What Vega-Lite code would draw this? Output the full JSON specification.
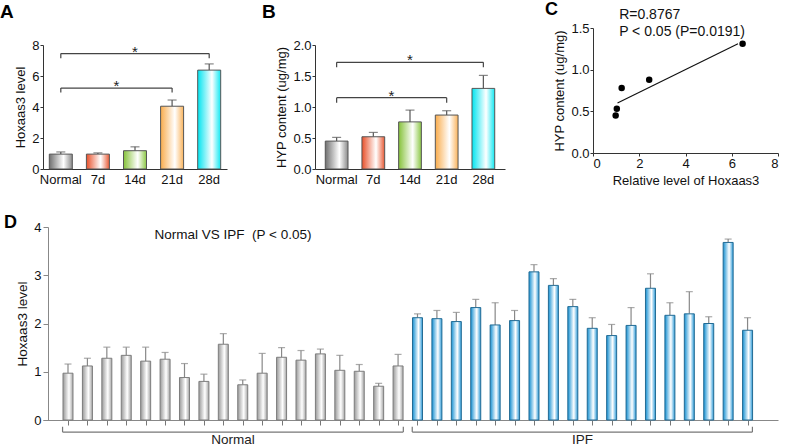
{
  "$schema": "https://vega.github.io/schema/vega-lite/v6.json",
  "padding": 0,
  "autosize": {"type": "pad"},
  "bounds": "flush",
  "spacing": 199,
  "config": {
    "font": "Liberation Sans",
    "view": {"stroke": null},
    "axis": {"labelFont": "Liberation Sans", "titleFont": "Liberation Sans", "labelFontSize": 13, "titleFontSize": 13, "titleFontWeight": "normal", "labelColor": "#111", "titleColor": "#111", "domainColor": "#333", "tickColor": "#333", "grid": false, "labelPadding": 1, "tickSize": 3, "labelOverlap": false},
    "title": {"font": "Liberation Sans", "fontSize": 19, "fontWeight": "bold", "anchor": "start", "color": "#000", "frame": "group"}
  },
  "datasets": {
    "A": [{"g":"Normal","v":0.96,"e":1.1},{"g":"7d","v":0.96,"e":1.04},{"g":"14d","v":1.18,"e":1.43},{"g":"21d","v":4.05,"e":4.45},{"g":"28d","v":6.38,"e":6.78}],
    "Abr": [{"x1":"Normal","x2":"28d","y1":7.45,"y2":7.45},{"x1":"Normal","x2":"Normal","y1":7.45,"y2":7.15},{"x1":"28d","x2":"28d","y1":7.45,"y2":7.15},{"x1":"Normal","x2":"21d","y1":5.22,"y2":5.22},{"x1":"Normal","x2":"Normal","y1":5.22,"y2":4.93},{"x1":"21d","x2":"21d","y1":5.22,"y2":4.93}],
    "B": [{"g":"Normal","v":0.45,"e":0.51},{"g":"7d","v":0.52,"e":0.59},{"g":"14d","v":0.76,"e":0.95},{"g":"21d","v":0.87,"e":0.94},{"g":"28d","v":1.30,"e":1.51}],
    "Bbr": [{"x1":"Normal","x2":"28d","y1":1.72,"y2":1.72},{"x1":"Normal","x2":"Normal","y1":1.72,"y2":1.64},{"x1":"28d","x2":"28d","y1":1.72,"y2":1.64},{"x1":"Normal","x2":"21d","y1":1.15,"y2":1.15},{"x1":"Normal","x2":"Normal","y1":1.15,"y2":1.07},{"x1":"21d","x2":"21d","y1":1.15,"y2":1.07}],
    "Cpts": [{"x":0.98,"y":0.45},{"x":1.03,"y":0.53},{"x":1.24,"y":0.78},{"x":2.43,"y":0.88},{"x":6.47,"y":1.31}],
    "Cline": [{"x":1.06,"y":0.60},{"x":6.27,"y":1.31}],
    "Ctext": [{"x":1.13,"y":1.66,"t":"R=0.8767"},{"x":1.13,"y":1.45,"t":"P < 0.05 (P=0.0191)"}],
    "D": [
      {"i":1,"grp":"Normal","v":0.97,"e":1.16},{"i":2,"grp":"Normal","v":1.12,"e":1.28},{"i":3,"grp":"Normal","v":1.28,"e":1.51},{"i":4,"grp":"Normal","v":1.34,"e":1.51},{"i":5,"grp":"Normal","v":1.22,"e":1.51},{"i":6,"grp":"Normal","v":1.26,"e":1.40},{"i":7,"grp":"Normal","v":0.88,"e":1.17},{"i":8,"grp":"Normal","v":0.80,"e":0.95},{"i":9,"grp":"Normal","v":1.57,"e":1.79},{"i":10,"grp":"Normal","v":0.73,"e":0.83},{"i":11,"grp":"Normal","v":0.97,"e":1.38},{"i":12,"grp":"Normal","v":1.30,"e":1.50},{"i":13,"grp":"Normal","v":1.24,"e":1.44},{"i":14,"grp":"Normal","v":1.37,"e":1.47},{"i":15,"grp":"Normal","v":1.03,"e":1.34},{"i":16,"grp":"Normal","v":1.01,"e":1.15},{"i":17,"grp":"Normal","v":0.70,"e":0.76},{"i":18,"grp":"Normal","v":1.12,"e":1.36},
      {"i":19,"grp":"IPF","v":2.12,"e":2.20},{"i":20,"grp":"IPF","v":2.10,"e":2.27},{"i":21,"grp":"IPF","v":2.04,"e":2.23},{"i":22,"grp":"IPF","v":2.33,"e":2.50},{"i":23,"grp":"IPF","v":1.97,"e":2.43},{"i":24,"grp":"IPF","v":2.06,"e":2.27},{"i":25,"grp":"IPF","v":3.07,"e":3.22},{"i":26,"grp":"IPF","v":2.79,"e":2.93},{"i":27,"grp":"IPF","v":2.35,"e":2.50},{"i":28,"grp":"IPF","v":1.90,"e":2.12},{"i":29,"grp":"IPF","v":1.75,"e":1.98},{"i":30,"grp":"IPF","v":1.96,"e":2.33},{"i":31,"grp":"IPF","v":2.73,"e":3.03},{"i":32,"grp":"IPF","v":2.17,"e":2.43},{"i":33,"grp":"IPF","v":2.20,"e":2.66},{"i":34,"grp":"IPF","v":2.00,"e":2.14},{"i":35,"grp":"IPF","v":3.68,"e":3.75},{"i":36,"grp":"IPF","v":1.86,"e":2.12}
    ],
    "Dbr": [{"x1":0.72,"x2":18.27,"y1":-0.25,"y2":-0.25},{"x1":0.72,"x2":0.72,"y1":-0.25,"y2":-0.14},{"x1":18.27,"x2":18.27,"y1":-0.25,"y2":-0.14},{"x1":18.73,"x2":36.25,"y1":-0.25,"y2":-0.25},{"x1":18.73,"x2":18.73,"y1":-0.25,"y2":-0.14},{"x1":36.25,"x2":36.25,"y1":-0.25,"y2":-0.14}],
    "Dtext": [{"x":9.5,"y":-0.41,"t":"Normal"},{"x":27.5,"y":-0.41,"t":"IPF"}]
  },
  "vconcat": [
    {
      "hconcat": [
        {
          "width": 184, "height": 141,
          "title": {"text": "A", "dx": -43, "offset": 6},
          "data": {"name": "A"},
          "encoding": {"x": {"field": "g", "type": "nominal", "scale": {"domain": ["Normal","7d","14d","21d","28d"], "paddingInner": 0.38, "paddingOuter": 0.17}, "axis": {"title": null, "labelAngle": 0, "ticks": false, "labelPadding": 4}}},
          "layer": [
            {"mark": {"type": "rule", "color": "#555", "strokeWidth": 1.2}, "encoding": {"y": {"field": "v", "type": "quantitative", "scale": {"domain": [0, 8], "range": [141, 17], "nice": false}, "axis": {"values": [0,2,4,6,8], "tickCount": 10, "format": "d", "title": "Hoxaas3 level", "labelOverlap": false}}, "y2": {"field": "e"}}},
            {"mark": {"type": "tick", "orient": "horizontal", "size": 9, "thickness": 1.2, "color": "#555"}, "encoding": {"y": {"field": "e", "type": "quantitative"}}},
            {"mark": {"type": "bar", "stroke": "#555", "strokeWidth": 1},
             "encoding": {"y": {"field": "v", "type": "quantitative"},
               "fill": {"condition": [
                 {"test": "datum.g === '7d'", "value": {"gradient": "linear", "stops": [{"offset": 0, "color": "#e8502a"}, {"offset": 0.62, "color": "#ffffff"}, {"offset": 1, "color": "#e85a35"}]}},
                 {"test": "datum.g === '14d'", "value": {"gradient": "linear", "stops": [{"offset": 0, "color": "#86c23a"}, {"offset": 0.62, "color": "#ffffff"}, {"offset": 1, "color": "#8cc845"}]}},
                 {"test": "datum.g === '21d'", "value": {"gradient": "linear", "stops": [{"offset": 0, "color": "#f9ac4c"}, {"offset": 0.62, "color": "#ffffff"}, {"offset": 1, "color": "#f9b35c"}]}},
                 {"test": "datum.g === '28d'", "value": {"gradient": "linear", "stops": [{"offset": 0, "color": "#00e4f0"}, {"offset": 0.62, "color": "#ffffff"}, {"offset": 1, "color": "#10e8f2"}]}}
               ], "value": {"gradient": "linear", "stops": [{"offset": 0, "color": "#707070"}, {"offset": 0.62, "color": "#ffffff"}, {"offset": 1, "color": "#8a8a8a"}]}}}},
            {"data": {"name": "Abr"}, "mark": {"type": "rule", "color": "#444", "strokeWidth": 1.2}, "encoding": {"x": {"field": "x1", "type": "nominal"}, "x2": {"field": "x2"}, "y": {"field": "y1", "type": "quantitative"}, "y2": {"field": "y2"}}},
            {"data": {"values": [{"x": "14d", "y": 7.45, "t": "*"}]}, "mark": {"type": "text", "fontSize": 15, "baseline": "alphabetic", "dy": 3, "color": "#222"}, "encoding": {"x": {"field": "x", "type": "nominal"}, "y": {"field": "y", "type": "quantitative"}, "text": {"field": "t"}}},
            {"data": {"values": [{"x": "7d", "y": 5.22, "t": "*"}]}, "mark": {"type": "text", "fontSize": 15, "baseline": "alphabetic", "dy": 3, "color": "#222"}, "encoding": {"x": {"field": "x", "type": "nominal", "bandPosition": 1.3}, "y": {"field": "y", "type": "quantitative"}, "text": {"field": "t"}}}
          ]
        },
        {
          "width": 190, "height": 141,
          "title": {"text": "B", "dx": -53, "offset": 6},
          "data": {"name": "B"},
          "encoding": {"x": {"field": "g", "type": "nominal", "scale": {"domain": ["Normal","7d","14d","21d","28d"], "paddingInner": 0.38, "paddingOuter": 0.28}, "axis": {"title": null, "labelAngle": 0, "ticks": false, "labelPadding": 4}}},
          "layer": [
            {"mark": {"type": "rule", "color": "#555", "strokeWidth": 1.2}, "encoding": {"y": {"field": "v", "type": "quantitative", "scale": {"domain": [0, 2], "range": [141, 17], "nice": false}, "axis": {"values": [0,0.5,1,1.5,2], "tickCount": 10, "format": ".1f", "title": "HYP content (ug/mg)", "labelOverlap": false}}, "y2": {"field": "e"}}},
            {"mark": {"type": "tick", "orient": "horizontal", "size": 9, "thickness": 1.2, "color": "#555"}, "encoding": {"y": {"field": "e", "type": "quantitative"}}},
            {"mark": {"type": "bar", "stroke": "#555", "strokeWidth": 1},
             "encoding": {"y": {"field": "v", "type": "quantitative"},
               "fill": {"condition": [
                 {"test": "datum.g === '7d'", "value": {"gradient": "linear", "stops": [{"offset": 0, "color": "#e8502a"}, {"offset": 0.62, "color": "#ffffff"}, {"offset": 1, "color": "#e85a35"}]}},
                 {"test": "datum.g === '14d'", "value": {"gradient": "linear", "stops": [{"offset": 0, "color": "#86c23a"}, {"offset": 0.62, "color": "#ffffff"}, {"offset": 1, "color": "#8cc845"}]}},
                 {"test": "datum.g === '21d'", "value": {"gradient": "linear", "stops": [{"offset": 0, "color": "#f9ac4c"}, {"offset": 0.62, "color": "#ffffff"}, {"offset": 1, "color": "#f9b35c"}]}},
                 {"test": "datum.g === '28d'", "value": {"gradient": "linear", "stops": [{"offset": 0, "color": "#00e4f0"}, {"offset": 0.62, "color": "#ffffff"}, {"offset": 1, "color": "#10e8f2"}]}}
               ], "value": {"gradient": "linear", "stops": [{"offset": 0, "color": "#707070"}, {"offset": 0.62, "color": "#ffffff"}, {"offset": 1, "color": "#8a8a8a"}]}}}},
            {"data": {"name": "Bbr"}, "mark": {"type": "rule", "color": "#444", "strokeWidth": 1.2}, "encoding": {"x": {"field": "x1", "type": "nominal"}, "x2": {"field": "x2"}, "y": {"field": "y1", "type": "quantitative"}, "y2": {"field": "y2"}}},
            {"data": {"values": [{"x": "14d", "y": 1.72, "t": "*"}]}, "mark": {"type": "text", "fontSize": 15, "baseline": "alphabetic", "dy": 3, "color": "#222"}, "encoding": {"x": {"field": "x", "type": "nominal"}, "y": {"field": "y", "type": "quantitative"}, "text": {"field": "t"}}},
            {"data": {"values": [{"x": "7d", "y": 1.15, "t": "*"}]}, "mark": {"type": "text", "fontSize": 15, "baseline": "alphabetic", "dy": 3, "color": "#222"}, "encoding": {"x": {"field": "x", "type": "nominal", "bandPosition": 1.3}, "y": {"field": "y", "type": "quantitative"}, "text": {"field": "t"}}}
          ]
        },
        {
          "width": 185, "height": 125,
          "layer": [
            {"data": {"name": "Cline"}, "mark": {"type": "line", "color": "#111", "strokeWidth": 1.2}, "encoding": {"x": {"field": "x", "type": "quantitative", "scale": {"domain": [0, 8], "nice": false}, "axis": {"values": [0,2,4,6,8], "tickCount": 10, "format": "d", "title": "Relative level of Hoxaas3", "titlePadding": 4}}, "y": {"field": "y", "type": "quantitative", "scale": {"domain": [0, 1.5], "nice": false}, "axis": {"values": [0,0.5,1,1.5], "tickCount": 10, "format": ".1f", "title": "HYP content (ug/mg)"}}}},
            {"data": {"name": "Cpts"}, "mark": {"type": "circle", "color": "#000", "opacity": 1, "size": 42}, "encoding": {"x": {"field": "x", "type": "quantitative"}, "y": {"field": "y", "type": "quantitative"}}},
            {"data": {"name": "Ctext"}, "mark": {"type": "text", "align": "left", "baseline": "middle", "fontSize": 14, "color": "#111"}, "encoding": {"x": {"field": "x", "type": "quantitative"}, "y": {"field": "y", "type": "quantitative"}, "text": {"field": "t"}}},
            {"data": {"values": [{"x": -1.8, "y": 1.72, "t": "C"}]}, "mark": {"type": "text", "align": "center", "baseline": "middle", "fontSize": 18, "fontWeight": "bold", "color": "#000"}, "encoding": {"x": {"field": "x", "type": "quantitative"}, "y": {"field": "y", "type": "quantitative"}, "text": {"field": "t"}}}
          ]
        }
      ],
      "spacing": 88,
      "bounds": "flush"
    },
    {
      "width": 735, "height": 193,
      "layer": [
        {"data": {"name": "D"}, "mark": {"type": "rule", "color": "#888", "strokeWidth": 1.2},
         "encoding": {"x": {"field": "i", "type": "quantitative", "scale": {"domain": [-0.03, 37.31], "nice": false, "zero": false}, "axis": {"values": [1,2,3,4,5,6,7,8,9,10,11,12,13,14,15,16,17,18,19,20,21,22,23,24,25,26,27,28,29,30,31,32,33,34,35,36], "tickCount": 40, "labels": false, "title": null, "tickSize": 5, "domainColor": "#888", "tickColor": "#777"}},
           "y": {"field": "v", "type": "quantitative", "scale": {"domain": [0, 4], "nice": false}, "axis": {"values": [0,1,2,3,4], "tickCount": 10, "format": "d", "title": "Hoxaas3 level", "offset": -5, "tickSize": 5, "domainColor": "#888", "tickColor": "#888", "labelPadding": 2, "labelFontSize": 13, "titleFontSize": 13.5}},
           "y2": {"field": "e"}}},
        {"data": {"name": "D"}, "mark": {"type": "tick", "orient": "horizontal", "size": 7, "thickness": 1.2, "color": "#888"}, "encoding": {"x": {"field": "i", "type": "quantitative"}, "y": {"field": "e", "type": "quantitative"}}},
        {"data": {"name": "D"}, "mark": {"type": "bar", "width": 10, "strokeWidth": 1},
         "encoding": {"x": {"field": "i", "type": "quantitative"}, "y": {"field": "v", "type": "quantitative"},
           "stroke": {"condition": {"test": "datum.grp === 'IPF'", "value": "#236b94"}, "value": "#7d7d7d"},
           "fill": {"condition": {"test": "datum.grp === 'IPF'", "value": {"gradient": "linear", "stops": [{"offset": 0, "color": "#1590d2"}, {"offset": 0.6, "color": "#ffffff"}, {"offset": 1, "color": "#2a9ad8"}]}}, "value": {"gradient": "linear", "stops": [{"offset": 0, "color": "#9a9a9a"}, {"offset": 0.6, "color": "#ffffff"}, {"offset": 1, "color": "#a5a5a5"}]}}}},
        {"data": {"name": "Dbr"}, "mark": {"type": "rule", "color": "#777", "strokeWidth": 1.2}, "encoding": {"x": {"field": "x1", "type": "quantitative"}, "x2": {"field": "x2"}, "y": {"field": "y1", "type": "quantitative"}, "y2": {"field": "y2"}}},
        {"data": {"name": "Dtext"}, "mark": {"type": "text", "align": "center", "baseline": "middle", "fontSize": 13.5, "color": "#222"}, "encoding": {"x": {"field": "x", "type": "quantitative"}, "y": {"field": "y", "type": "quantitative"}, "text": {"field": "t"}}},
        {"data": {"values": [{"x": 9.5, "y": 3.83, "t": "Normal VS IPF \u00a0(P < 0.05)"}]}, "mark": {"type": "text", "align": "center", "baseline": "middle", "fontSize": 13.5, "color": "#111"}, "encoding": {"x": {"field": "x", "type": "quantitative"}, "y": {"field": "y", "type": "quantitative"}, "text": {"field": "t"}}},
        {"data": {"values": [{"x": -1.96, "y": 4.08, "t": "D"}]}, "mark": {"type": "text", "align": "center", "baseline": "middle", "fontSize": 18, "fontWeight": "bold", "color": "#000"}, "encoding": {"x": {"field": "x", "type": "quantitative"}, "y": {"field": "y", "type": "quantitative"}, "text": {"field": "t"}}}
      ]
    }
  ]
}
